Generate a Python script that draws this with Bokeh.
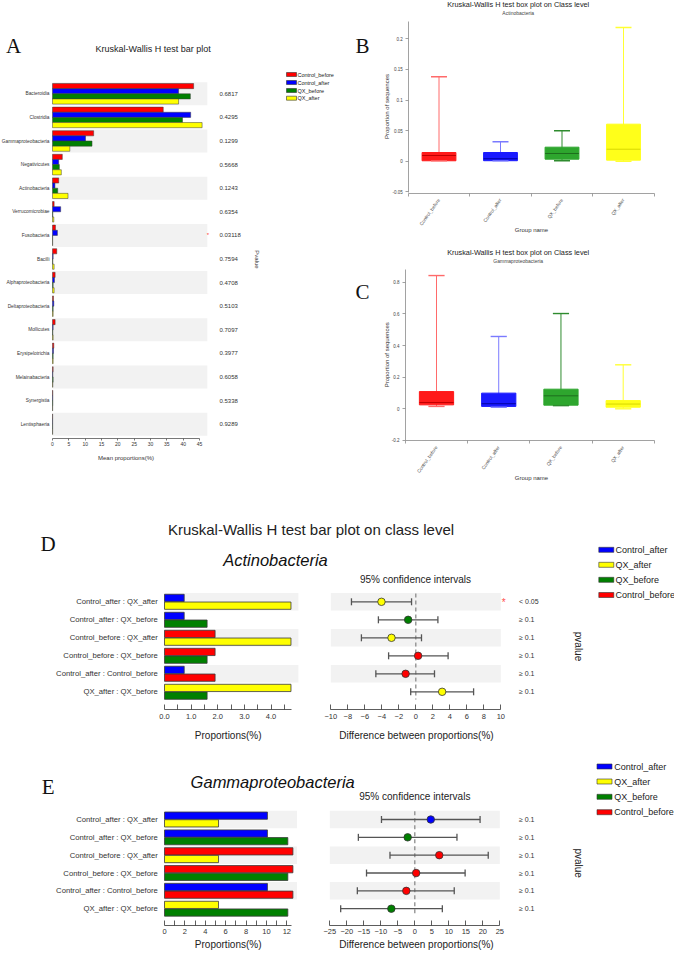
import math
from bokeh.plotting import figure
from bokeh.models import Range1d, LinearAxis, FixedTicker, CustomJSTickFormatter, NumeralTickFormatter
from bokeh.core.properties import value
from bokeh.embed import file_html
from bokeh.resources import INLINE

# ---------------- data ----------------
groups = ["Control_before", "Control_after", "QX_before", "QX_after"]
group_colors = ["#FF0000", "#0000FF", "#008000", "#FFFF00"]
box_colors = ["#FF1A1A", "#1A1AFF", "#2EA62E", "#FFFF1A"]
whisker_colors = ["#FF6A6A", "#7A7AFF", "#2E8B2E", "#FFFF33"]
median_colors = ["#C00000", "#0000A0", "#1E6E1E", "#D8D800"]

a_classes = ["Bacteroidia", "Clostridia", "Gammaproteobacteria", "Negativicutes", "Actinobacteria",
             "Verrucomicrobiae", "Fusobacteria", "Bacilli", "Alphaproteobacteria", "Deltaproteobacteria",
             "Mollicutes", "Erysipelotrichia", "Melainabacteria", "Synergistia", "Lentisphaeria"]
a_control_before = [43.2, 33.9, 12.6, 3.0, 1.9, 0.5, 0.9, 1.3, 0.8, 0.3, 0.8, 0.4, 0.2, 0.1, 0.05]
a_control_after = [38.6, 42.3, 10.1, 1.9, 0.74, 2.5, 1.5, 0.2, 0.6, 0.4, 0.2, 0.3, 0.1, 0.1, 0.05]
a_qx_before = [42.2, 39.8, 12.1, 2.1, 1.6, 0.1, 0.05, 0.1, 0.2, 0.2, 0.1, 0.2, 0.2, 0.1, 0.05]
a_qx_after = [38.6, 45.8, 5.3, 2.7, 4.75, 0.4, 0.05, 0.5, 0.5, 0.2, 0.2, 0.2, 0.1, 0.05, 0.05]
a_pvalues = ["0.6817", "0.4295", "0.1299", "0.5668", "0.1243", "0.6354", "0.03118", "0.7594",
             "0.4708", "0.5103", "0.7097", "0.3977", "0.6058", "0.5338", "0.9289"]
a_xticks = [0, 5, 10, 15, 20, 25, 30, 35, 40, 45]
a_legend_order = ["Control_before", "Control_after", "QX_before", "QX_after"]

box_title = "Kruskal-Wallis H test box plot on Class level"
b_low = [0.0005, 0.0005, 0.0008, 0.0]
b_q1 = [0.0007, 0.0008, 0.0033, 0.0017]
b_median = [0.0093, 0.004, 0.0126, 0.0196]
b_q3 = [0.0142, 0.0142, 0.0229, 0.0605]
b_high = [0.138, 0.0317, 0.0497, 0.2185]
b_yticks = [-0.05, 0, 0.05, 0.1, 0.15, 0.2]

c_low = [0.015, 0.01, 0.02, 0.0]
c_q1 = [0.025, 0.015, 0.023, 0.01]
c_median = [0.04, 0.032, 0.082, 0.03]
c_q3 = [0.109, 0.099, 0.124, 0.052]
c_high = [0.842, 0.457, 0.602, 0.278]
c_yticks = [-0.2, 0, 0.2, 0.4, 0.6, 0.8]

pair_labels = ["Control_after : QX_after", "Control_after : QX_before", "Control_before : QX_after",
               "Control_before : QX_before", "Control_after : Control_before", "QX_after : QX_before"]
pair_first = ["Control_after", "Control_after", "Control_before", "Control_before", "Control_after", "QX_after"]
pair_second = ["QX_after", "QX_before", "QX_after", "QX_before", "Control_before", "QX_before"]
legend_order = ["Control_after", "QX_after", "QX_before", "Control_before"]

d_means = [1.9, 0.74, 1.6, 4.75]          # order of `groups`
d_diff = [-4.04, -0.9, -2.86, 0.27, -1.2, 3.1]
d_low = [-7.57, -4.4, -6.4, -3.2, -4.7, -0.6]
d_high = [-0.5, 2.6, 0.67, 3.8, 2.2, 6.8]
d_pvalues = ["< 0.05", "≥ 0.1", "≥ 0.1", "≥ 0.1", "≥ 0.1", "≥ 0.1"]
d_xticks = [0, 1, 2, 3, 4]
d_xminor = [0.5, 1.5, 2.5, 3.5, 4.5]
d_citicks = [-10, -8, -6, -4, -2, 0, 2, 4, 6, 8, 10]

e_means = [12.6, 10.1, 12.1, 5.3]
e_diff = [4.7, -2.1, 7.2, 0.4, -2.5, -6.9]
e_low = [-9.8, -16.6, -7.3, -14.2, -16.9, -21.8]
e_high = [19.2, 12.4, 21.6, 14.8, 11.6, 8.1]
e_pvalues = ["≥ 0.1", "≥ 0.1", "≥ 0.1", "≥ 0.1", "≥ 0.1", "≥ 0.1"]
e_xticks = [0, 2, 4, 6, 8, 10, 12]
e_xminor = [1, 3, 5, 7, 9, 11]
e_citicks = [-25, -20, -15, -10, -5, 0, 5, 10, 15, 20, 25]

# ---------------- canvas ----------------
X0, X1 = 9, 683
Y0, Y1 = 4, 954
W, H = X1 - X0, Y1 - Y0
SANS = "Liberation Sans"
SERIF = "Liberation Serif"


def xr(p0, v0, p1, v1):
    k = (v1 - v0) / (p1 - p0)
    return Range1d(start=v0 + (X0 - p0) * k, end=v0 + (X1 - p0) * k)


def yr(p0, v0, p1, v1):
    k = (v1 - v0) / (p1 - p0)
    return Range1d(start=v0 + (Y1 - p0) * k, end=v0 + (Y0 - p0) * k)


p = figure(width=W, height=H, x_range=Range1d(X0, X1), y_range=Range1d(Y1, Y0),
           output_backend="svg", toolbar_location=None, min_border=0,
           x_axis_location=None, y_axis_location=None, outline_line_color=None,
           background_fill_color="white", border_fill_color="white")
p.grid.visible = False

p.extra_x_ranges = {
    "ax": xr(61, 0, 208, 45),
    "bx": xr(447.5, 1, 632, 4),
    "cx": xr(445, 1, 631.7, 4),
    "dbx": xr(173, 0, 279.5, 4),
    "dcx": xr(339.3, -10, 509.3, 10),
    "ebx": xr(173, 0, 295.3, 12),
    "ecx": xr(338.3, -25, 508.3, 25),
}
p.extra_y_ranges = {
    "ay": yr(97.3, 0, 427.7, 14),
    "by": yr(164.7, 0, 134.1, 0.05),
    "cy": yr(412.3, 0, 380.65, 0.2),
    "dy": yr(605.3, 0, 695.3, 5),
    "ey": yr(823, 0, 912.2, 5),
}


def txt(x, y, s, size, align="center", baseline="middle", color="#222222", font=SANS,
        style="normal", angle=0.0, xn="default", yn="default"):
    xs = x if isinstance(x, list) else [x]
    ys = y if isinstance(y, list) else [y]
    ss = s if isinstance(s, list) else [s]
    n = max(len(xs), len(ys), len(ss))
    xs = xs * n if len(xs) == 1 else xs
    ys = ys * n if len(ys) == 1 else ys
    ss = ss * n if len(ss) == 1 else ss
    p.text(x=xs, y=ys, text=ss, text_font=value(font), text_font_size=value(size),
           text_align=value(align), text_baseline=value(baseline), text_color=color,
           text_font_style=value(style), angle=angle, x_range_name=xn, y_range_name=yn)


def style_axis(ax, size, color="#333333", label_color="#333333"):
    ax.major_label_text_font = SANS
    ax.major_label_text_font_size = size
    ax.major_label_text_color = label_color
    ax.axis_line_color = color
    ax.major_tick_line_color = color
    ax.minor_tick_line_color = color
    ax.axis_line_width = 0.8
    ax.major_tick_line_width = 0.8
    ax.minor_tick_line_width = 0.8


def legend(order, x_box, w_box, h_box, ys, x_text, size):
    for name, yy in zip(order, ys):
        col = group_colors[groups.index(name)]
        p.rect(x=[x_box], y=[yy], width=w_box, height=h_box, fill_color=col,
               line_color="#333333", line_width=0.6)
        txt(x_text, yy, name, size, align="left", color="#222222")


# ================= Panel A =================
rows_a = list(range(len(a_classes)))
p.hbar(y=[r for r in rows_a if r % 2 == 0], left=0, right=47.4, height=0.975,
       fill_color="#F2F2F2", line_color=None, x_range_name="ax", y_range_name="ay")
a_series = [a_control_before, a_control_after, a_qx_before, a_qx_after]
a_offsets = [-0.327, -0.109, 0.109, 0.327]
for vals, off, col in zip(a_series, a_offsets, group_colors):
    p.hbar(y=[r + off for r in rows_a], left=0, right=vals, height=0.218, fill_color=col,
           line_color="#3a3a3a", line_width=0.5, x_range_name="ax", y_range_name="ay")

ax_a = LinearAxis(x_range_name="ax", fixed_location=442, bounds=(0, 45),
                  ticker=FixedTicker(ticks=a_xticks), major_tick_out=2, major_tick_in=0,
                  minor_tick_out=0, major_label_standoff=1)
style_axis(ax_a, "5px", color="#555555")
p.add_layout(ax_a, "below")

ay_a = LinearAxis(y_range_name="ay", fixed_location=61, ticker=FixedTicker(ticks=rows_a),
                  major_label_overrides={i: n for i, n in enumerate(a_classes)},
                  major_tick_out=0, major_tick_in=0, minor_tick_out=0, minor_tick_in=0,
                  major_label_standoff=3)
style_axis(ay_a, "4.8px")
ay_a.axis_line_color = None
p.add_layout(ay_a, "left")

txt(22, 49, "A", "21px", baseline="alphabetic", font=SERIF, color="#111111")
txt(161.7, 52.3, "Kruskal-Wallis H test bar plot", "9px")
txt(228, rows_a, a_pvalues, "6px", align="left", color="#333333", yn="ay")
txt(216.5, 238, "*", "6px", color="#FF4040")
txt(265, 263, "Pvalue", "6px", angle=-math.pi / 2, color="#333333")
txt(134.5, 461, "Mean proportions(%)", "6px", color="#333333")
legend(a_legend_order, 300, 10, 4, [78, 86, 94, 101.7], 306, "5.5px")

# ================= Panels B and C (box plots) =================
cats = [1, 2, 3, 4]


def boxplot(xn, yn, low, q1, med, q3, high):
    p.segment(x0=cats, y0=low, x1=cats, y1=high, line_color=whisker_colors, line_width=1,
              x_range_name=xn, y_range_name=yn)
    p.vbar(x=cats, bottom=q1, top=q3, width=0.55, fill_color=box_colors, line_color=box_colors,
           x_range_name=xn, y_range_name=yn)
    p.segment(x0=[c - 0.275 for c in cats], y0=med, x1=[c + 0.275 for c in cats], y1=med,
              line_color=median_colors, line_width=1, x_range_name=xn, y_range_name=yn)
    for ends in (high, low):
        p.segment(x0=[c - 0.13 for c in cats], y0=ends, x1=[c + 0.13 for c in cats], y1=ends,
                  line_color=whisker_colors, line_width=1.4, x_range_name=xn, y_range_name=yn)


num_fmt = CustomJSTickFormatter(code="return String(Math.round(tick * 1000) / 1000)")

for (xn, yn, xloc, yloc, yb, yticks, low, q1, med, q3, high, sub, letter, ty) in [
    ("bx", "by", 417.3, 196.7, (-0.0508, 0.2284), b_yticks, b_low, b_q1, b_median, b_q3, b_high,
     "Actinobacteria", "B", 0.0),
    ("cx", "cy", 414.0, 444.0, (-0.2, 0.878), c_yticks, c_low, c_q1, c_median, c_q3, c_high,
     "Gammaproteobacteria", "C", 248.3),
]:
    boxplot(xn, yn, low, q1, med, q3, high)
    yax = LinearAxis(y_range_name=yn, fixed_location=xloc, bounds=yb, ticker=FixedTicker(ticks=yticks),
                     formatter=num_fmt, major_tick_out=3, major_tick_in=0, minor_tick_out=0,
                     major_label_standoff=3)
    style_axis(yax, "4.5px", color="#8a8a8a", label_color="#444444")
    p.add_layout(yax, "left")
    xax = LinearAxis(x_range_name=xn, fixed_location=yloc, bounds=(0.5, 4.5),
                     ticker=FixedTicker(ticks=cats, minor_ticks=[0.5, 1.5, 2.5, 3.5, 4.5]),
                     major_label_overrides={i + 1: g for i, g in enumerate(groups)},
                     major_label_orientation=0.96, major_tick_out=0, major_tick_in=0,
                     minor_tick_out=3, minor_tick_in=0, major_label_standoff=3)
    style_axis(xax, "4.8px", color="#8a8a8a", label_color="#444444")
    p.add_layout(xax, "below")
    txt(526.7, 7.5 + ty, box_title, "7.3px", color="#222222")
    txt(526.7, 16 + ty, sub, "5px", color="#444444")
    txt(371, 49 + ty - (1.5 if letter == "C" else 0), letter, "21px", baseline="alphabetic",
        font=SERIF, color="#111111")
    txt(395, 110 + ty, "Proportion of sequences", "6px", angle=math.pi / 2, color="#333333")
    txt(540, 233.3 + ty, "Group name", "6px", color="#333333")


# ================= Panels D and E =================
rows_p = list(range(len(pair_labels)))


def pair_panel(bx, cx, yn, means, diff, low, high, pvals, band_right, ci_lim, ticks, minor,
               bar_bound, ci_ticks, axis_y, fmt):
    p.hbar(y=[r for r in rows_p if r % 2 == 0], left=0, right=band_right, height=0.98,
           fill_color="#F2F2F2", line_color=None, x_range_name=bx, y_range_name=yn)
    p.hbar(y=[r for r in rows_p if r % 2 == 0], left=-ci_lim, right=ci_lim, height=0.98,
           fill_color="#F2F2F2", line_color=None, x_range_name=cx, y_range_name=yn)
    for gi, g in enumerate(groups):
        ys, vs = [], []
        for r, (a, b) in enumerate(zip(pair_first, pair_second)):
            if a == g:
                ys.append(r - 0.215)
                vs.append(means[gi])
            if b == g:
                ys.append(r + 0.215)
                vs.append(means[gi])
        p.hbar(y=ys, left=0, right=vs, height=0.405, fill_color=group_colors[gi],
               line_color="#3a3a3a", line_width=0.8, x_range_name=bx, y_range_name=yn)
    # zero line
    p.segment(x0=[0], y0=[-0.46], x1=[0], y1=[5.43], line_color="#8c8c8c", line_width=1.3,
              line_dash="4 3", x_range_name=cx, y_range_name=yn)
    p.segment(x0=low, y0=rows_p, x1=high, y1=rows_p, line_color="#555555", line_width=1.3,
              x_range_name=cx, y_range_name=yn)
    for ends in (low, high):
        p.scatter(x=ends, y=rows_p, marker="dash", angle=math.pi / 2, size=7, line_color="#555555",
                  line_width=1.3, x_range_name=cx, y_range_name=yn)
    pt_colors = []
    for a, b in zip(pair_first, pair_second):
        ia, ib = groups.index(a), groups.index(b)
        pt_colors.append(group_colors[ia] if means[ia] >= means[ib] else group_colors[ib])
    p.scatter(x=diff, y=rows_p, size=7.5, fill_color=pt_colors, line_color="#333333",
              line_width=0.8, x_range_name=cx, y_range_name=yn)

    yax = LinearAxis(y_range_name=yn, fixed_location=172.3, ticker=FixedTicker(ticks=rows_p),
                     major_label_overrides={i: n for i, n in enumerate(pair_labels)},
                     major_tick_out=0, major_tick_in=0, minor_tick_out=0, minor_tick_in=0,
                     major_label_standoff=6)
    style_axis(yax, "7.7px")
    yax.axis_line_color = None
    p.add_layout(yax, "left")

    xb = LinearAxis(x_range_name=bx, fixed_location=axis_y, bounds=(0, bar_bound),
                    ticker=FixedTicker(ticks=ticks, minor_ticks=minor), formatter=fmt,
                    major_tick_in=5, major_tick_out=0, minor_tick_in=5, minor_tick_out=0,
                    major_label_standoff=4)
    style_axis(xb, "7.5px")
    p.add_layout(xb, "below")
    xc = LinearAxis(x_range_name=cx, fixed_location=axis_y, bounds=(-ci_lim, ci_lim),
                    ticker=FixedTicker(ticks=ci_ticks), major_tick_in=5, major_tick_out=0,
                    minor_tick_in=0, minor_tick_out=0, major_label_standoff=4)
    style_axis(xc, "7.5px")
    p.add_layout(xc, "below")
    txt(527.5, rows_p, pvals, "7px", align="left", color="#333333", yn=yn)


pair_panel("dbx", "dcx", "dy", d_means, d_diff, d_low, d_high, d_pvalues, 5.03, 10, d_xticks,
           d_xminor, 4.78, d_citicks, 713.3, NumeralTickFormatter(format="0.0"))
pair_panel("ebx", "ecx", "ey", e_means, e_diff, e_low, e_high, e_pvalues, 13.0, 25, e_xticks,
           e_xminor, 12.5, e_citicks, 928.5, NumeralTickFormatter(format="0"))

# D texts
txt(319.5, 532.5, "Kruskal-Wallis H test bar plot on class level", "15px", baseline="alphabetic",
    color="#222222")
txt(56.7, 547, "D", "21px", baseline="alphabetic", font=SERIF, color="#111111")
txt(284, 563.5, "Actinobacteria", "16.5px", baseline="alphabetic", style="italic", color="#111111")
txt(424, 582.7, "95% confidence intervals", "10px", color="#222222")
txt(512.3, 606, "*", "10px", color="#FF5050")
txt(586.7, 650, "pvalue", "10px", angle=-math.pi / 2, color="#222222")
legend(legend_order, 614.8, 15, 5, [553.3, 568.3, 583.3, 598.5], 624, "9px")
txt(236.7, 739.3, "Proportions(%)", "10px", color="#222222")
txt(425, 739.3, "Difference between proportions(%)", "10px", color="#222222")

# E texts
txt(56.7, 790, "E", "21px", baseline="alphabetic", font=SERIF, color="#111111")
txt(281.2, 785, "Gammaproteobacteria", "16.5px", baseline="alphabetic", style="italic", color="#111111")
txt(423.3, 800, "95% confidence intervals", "10px", color="#222222")
txt(586.7, 866.7, "pvalue", "10px", angle=-math.pi / 2, color="#222222")
legend(legend_order, 613, 15, 5, [770, 785, 800.3, 815.7], 622.7, "9px")
txt(236.7, 948, "Proportions(%)", "10px", color="#222222")
txt(425, 948, "Difference between proportions(%)", "10px", color="#222222")

open("out.html", "w").write(file_html(p, INLINE))
